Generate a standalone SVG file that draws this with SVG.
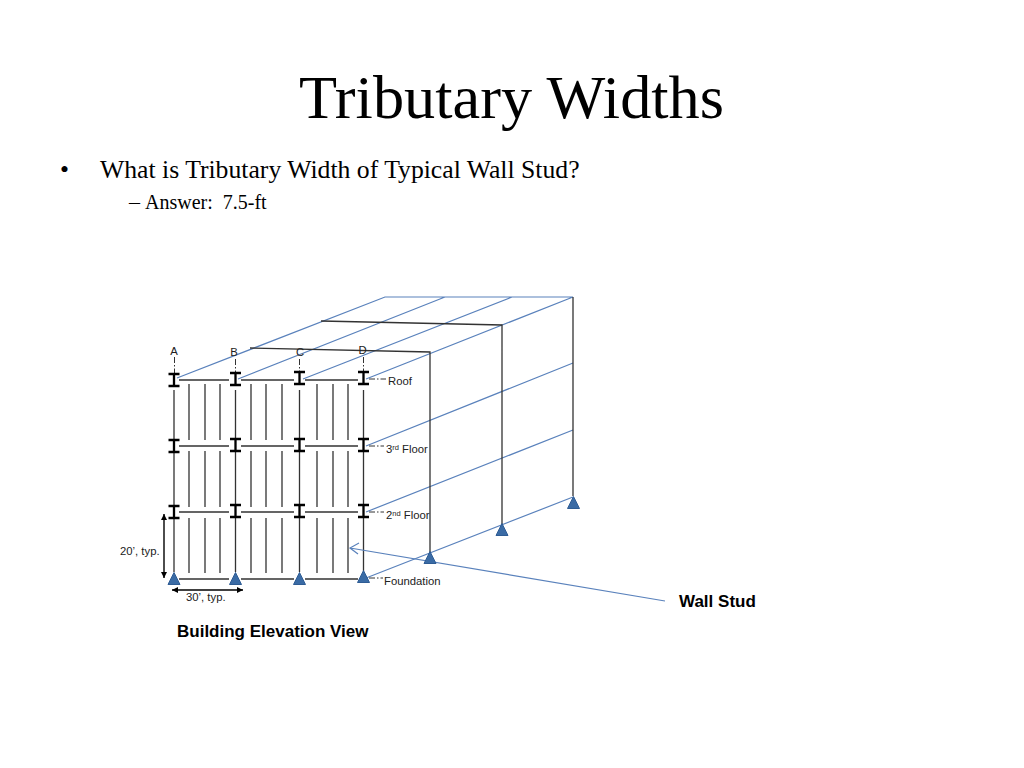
<svg xmlns="http://www.w3.org/2000/svg" xmlns:xlink="http://www.w3.org/1999/xlink" width="1024" height="768" viewBox="0 0 1024 768">
<style>
.s{font-family:"Liberation Serif",serif;fill:#000}
.a{font-family:"Liberation Sans",Arial,sans-serif;fill:#222;font-size:11.3px}
.b{font-family:"Liberation Sans",Arial,sans-serif;fill:#000;font-size:17px;font-weight:bold}
.k{stroke:#333;stroke-width:1.3;fill:none}
.u{stroke:#5a82bc;stroke-width:1.2;fill:none}
.d{stroke:#333;stroke-width:1;stroke-dasharray:6 2 1.5 2;fill:none}
.i{stroke:#000;stroke-width:2.3;fill:none}
.t{fill:#3a6ba5;stroke:#2e5c94;stroke-width:1}
</style>
<defs>
<g id="ib"><path class="i" d="M-5.500-6H5.500M-5.500 6H5.500M0-6V6"/></g>
<polygon id="tri" class="t" points="0,-6.500 6,5.500 -6,5.500"/>
<marker id="ah" markerWidth="7" markerHeight="7" refX="6" refY="3" orient="auto-start-reverse" markerUnits="userSpaceOnUse"><path d="M0 0L6 3L0 6z" fill="#000"/></marker>
</defs>
<rect width="1024" height="768" fill="#fff"/>
<g id="title"><text class="s" x="511.500" y="118" font-size="62.300" text-anchor="middle">Tributary Widths</text></g>
<g id="bullets">
<text class="s" x="60" y="178" font-size="25.700">•</text>
<text class="s" x="100" y="178" font-size="25.700">What is Tributary Width of Typical Wall Stud?</text>
<text class="s" x="129" y="209" font-size="22">–</text>
<text class="s" x="145" y="209" font-size="20" xml:space="preserve">Answer:  7.5-ft</text>
</g>
<g id="connectors">
<path class="u" d="M177 378L385 297H573M238 379L445 297M303 379L512 297M366 379L573 297M366 446L573 363M366 512L573 430M366 578L573 497"/>
<path class="k" d="M250 348L430 352V552M321 321L502 325V524M573 297V496"/>
<path class="k" d="M179 380H229M241 380H294M305 380H358M179 446H229M241 446H294M305 446H358M179 512H229M241 512H294M305 512H358M179 579H229M241 579H294M305 579H358"/>
<path class="k" d="M174 390V439M174 452V506M174 518V572M235.500 390V439M235.500 452V505M235.500 518V572M299.500 390V439M299.500 452V505M299.500 518V572M363.500 390V439M363.500 452V505M363.500 518V571"/>
<path class="k" d="M189 384V440M205 384V440M220 384V440M251 384V440M266 384V440M282 384V440M317 384V440M333 384V440M348 384V440M189 451V507M205 451V507M220 451V507M251 451V507M266 451V507M282 451V507M317 451V507M333 451V507M348 451V507M189 518V573M205 518V573M220 518V573M251 518V573M266 518V573M282 518V573M317 518V573M333 518V573M348 518V573"/>
<path class="d" d="M174.500 357V374M235.500 359V373M299.500 359V373M363.500 357V372M369 379H386M369 446H384M369 512H384M369 578H383"/>
<path d="M164 514V578" stroke="#000" stroke-width="1.400" marker-start="url(#ah)" marker-end="url(#ah)" fill="none"/>
<path d="M172 590H243" stroke="#000" stroke-width="1.400" marker-start="url(#ah)" marker-end="url(#ah)" fill="none"/>
<path class="u" d="M665 601L350 548M359 543L350 548L358 554" stroke-width="1.400"/>
</g>
<g id="beams">
<use xlink:href="#ib" href="#ib" x="174" y="380"/><use xlink:href="#ib" href="#ib" x="235.500" y="379"/><use xlink:href="#ib" href="#ib" x="299.500" y="378"/><use xlink:href="#ib" href="#ib" x="363.500" y="378"/>
<use xlink:href="#ib" href="#ib" x="174" y="446"/><use xlink:href="#ib" href="#ib" x="235.500" y="445"/><use xlink:href="#ib" href="#ib" x="299.500" y="445"/><use xlink:href="#ib" href="#ib" x="363.500" y="445"/>
<use xlink:href="#ib" href="#ib" x="174" y="512"/><use xlink:href="#ib" href="#ib" x="235.500" y="511"/><use xlink:href="#ib" href="#ib" x="299.500" y="511"/><use xlink:href="#ib" href="#ib" x="363.500" y="511"/>
</g>
<g id="supports">
<use xlink:href="#tri" href="#tri" x="174" y="579"/><use xlink:href="#tri" href="#tri" x="235.500" y="579"/><use xlink:href="#tri" href="#tri" x="299.500" y="579"/><use xlink:href="#tri" href="#tri" x="363.500" y="577"/>
<use xlink:href="#tri" href="#tri" x="430" y="558"/><use xlink:href="#tri" href="#tri" x="502" y="530"/><use xlink:href="#tri" href="#tri" x="573.500" y="503"/>
</g>
<g id="labels">
<text class="a" x="174" y="355" text-anchor="middle">A</text>
<text class="a" x="234" y="356" text-anchor="middle">B</text>
<text class="a" x="300" y="356" text-anchor="middle">C</text>
<text class="a" x="362.500" y="354" text-anchor="middle">D</text>
<text class="a" x="388" y="385">Roof</text>
<text class="a" x="386" y="453">3<tspan font-size="7.500" dy="-3">rd</tspan><tspan dy="3"> Floor</tspan></text>
<text class="a" x="386" y="519">2<tspan font-size="7.500" dy="-3">nd</tspan><tspan dy="3"> Floor</tspan></text>
<text class="a" x="384" y="585">Foundation</text>
<text class="a" x="120" y="555">20’, typ.</text>
<text class="a" x="186" y="601">30’, typ.</text>
<text class="b" x="177" y="637">Building Elevation View</text>
<text class="b" x="679" y="606.500">Wall Stud</text>
</g>
</svg>
